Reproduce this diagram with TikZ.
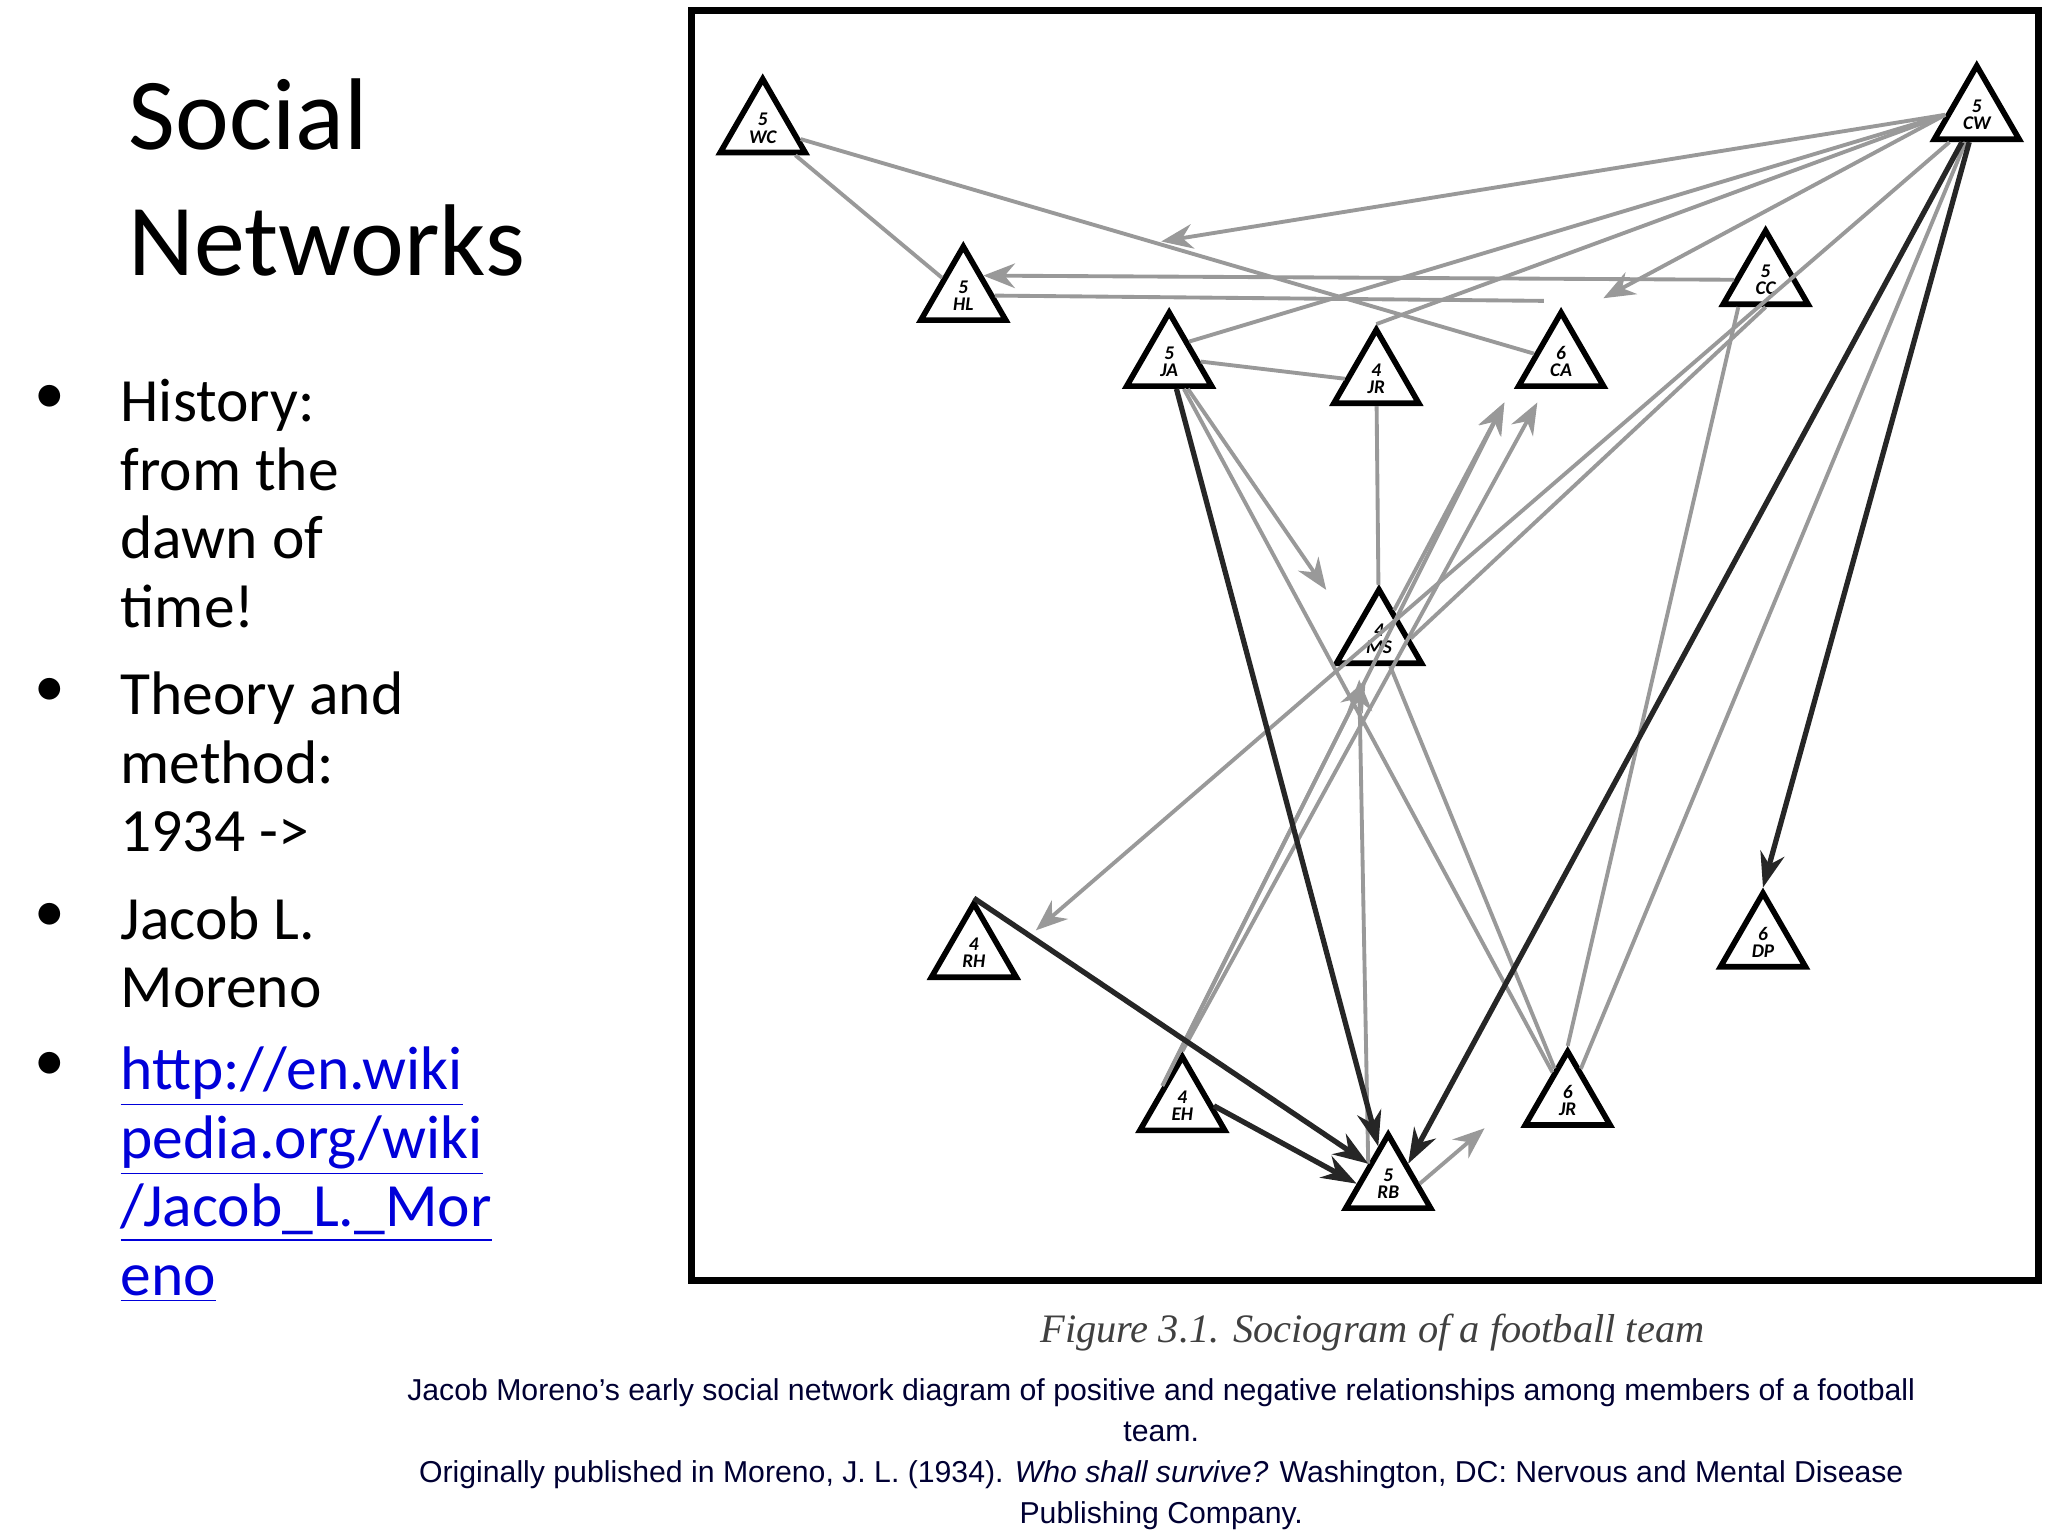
\documentclass[tikz,border=0pt]{standalone}
\usepackage{fontspec}
\setmainfont{Carlito}
\newfontfamily\capfont{Liberation Sans}
\newfontfamily\figfont{Liberation Serif}
\usetikzlibrary{shapes.geometric,arrows.meta}
\begin{document}
\begin{tikzpicture}[x=0.013196cm,y=-0.013196cm,
  tri/.style={regular polygon,regular polygon sides=3,draw,line width=1.6pt,minimum size=0.98cm,inner sep=0pt,font=\fontsize{5.5}{5}\selectfont\bfseries\itshape,align=center,text depth=0pt,fill=white},
  g/.style={draw=gray!80,line width=1.1pt},
  ga/.style={g,-{Stealth[length=9pt,width=7pt]}},
  bk/.style={draw=black!85,line width=1.5pt,-{Stealth[length=10pt,width=7pt]}}]
\useasboundingbox (0,0) rectangle (1552,1164);
\fill[white] (0,0) rectangle (1552,1164);
\draw[line width=2pt] (524,8) rectangle (1545,970);
% title and bullets
\node[anchor=north west,font=\fontsize{29}{36}\selectfont,align=left] (title) at (88,50) {Social\\Networks};
\begin{scope}[font=\fontsize{17.5}{19.5}\selectfont]
\node[anchor=north west,align=left] (b1) at (82,278) {History:\\from the\\dawn of\\time!};
\node[anchor=north west,align=left] (b2) at (82,500) {Theory and\\method:\\1934 ->};
\node[anchor=north west,align=left] (b3) at (82,670) {Jacob L.\\Moreno};
\node[anchor=north west,align=left,text=blue!85!black] (b4) at (82,784) {\underline{http://en.wiki}\\\underline{pedia.org/wiki}\\\underline{/Jacob\_L.\_Mor}\\\underline{eno}};
\foreach \y/\n in {303/d1,525/d2,695/d3,808/d4} \node (\n) at (38,\y) {•};
\end{scope}
% gray relations (drawn below triangles)
\node[tri] (WC) at (578,97) {5\\WC};
\node[tri] (HL) at (730,224) {5\\HL};
\node[tri] (JA) at (886,274) {5\\JA};
\node[tri] (JR1) at (1043,287) {4\\JR};
\node[tri] (CA) at (1183,274) {6\\CA};
\node[tri] (CC) at (1338,212) {5\\CC};
\node[tri] (CW) at (1498,87) {5\\CW};
\node[tri] (MS) at (1045,484) {4\\MS};
\node[tri] (RH) at (738,722) {4\\RH};
\node[tri] (DP) at (1336,714) {6\\DP};
\node[tri] (EH) at (896,838) {4\\EH};
\node[tri] (JR2) at (1188,834) {6\\JR};
\node[tri] (RB) at (1052,897) {5\\RB};
\begin{scope}[on background layer/.style={}]
\draw[g] (WC) -- (HL);
\draw[g] (WC) -- (CA);
\draw[ga] (CC.west) -- (HL.north east);
\draw[g] (HL.east) -- (1170,228);
\draw[ga] (CW.west) -- (880,183);
\draw[g] (CW.west) -- (JA.north east);
\draw[g] (CW.west) -- (JR1.north);
\draw[ga] (CW.west) -- (1215,226);
\draw[g] (JA.east) -- (JR1.west);
\draw[ga] (JA) -- (1005,447);
\draw[g] (JA) -- (JR2);
\draw[g] (JR1) -- (MS);
\draw[ga] (MS) -- (1140,305);
\draw[g] (MS.east) -- (CC.south);
\draw[g] (MS) -- (JR2);
\draw[ga] (CW.south west) -- (785,705);
\draw[g] (CW) -- (JR2);
\draw[ga] (EH.north west) -- (1140,305);
\draw[ga] (EH.north) -- (1165,305);
\draw[ga] (RB.north west) -- (1030,515);
\draw[ga] (EH.north west) -- (1035,515);
\draw[g] (JR2.north) -- (CC.south west);
\draw[ga] (RB.east) -- (1125,855);
\end{scope}
% strong relations
\draw[bk] (JA) -- (RB);
\draw[bk] (RH.north) -- (RB.north west);
\draw[bk] (EH.east) -- (RB.west);
\draw[bk] (CW) -- (RB.north east);
\draw[bk] (CW) -- (DP.north);
% captions
\node[font=\figfont\itshape\fontsize{11.5}{14}\selectfont,text=black!75] (fig) at (1040,1010) {Figure 3.1. Sociogram of a football team};
\node[font=\capfont\fontsize{8.6}{11.7}\selectfont,align=center,text=black!80!blue] (cap) at (880,1102) {Jacob Moreno’s early social network diagram of positive and negative relationships among members of a football\\team.\\Originally published in Moreno, J. L. (1934). \textit{Who shall survive?} Washington, DC: Nervous and Mental Disease\\Publishing Company.};
\end{tikzpicture}
\end{document}
